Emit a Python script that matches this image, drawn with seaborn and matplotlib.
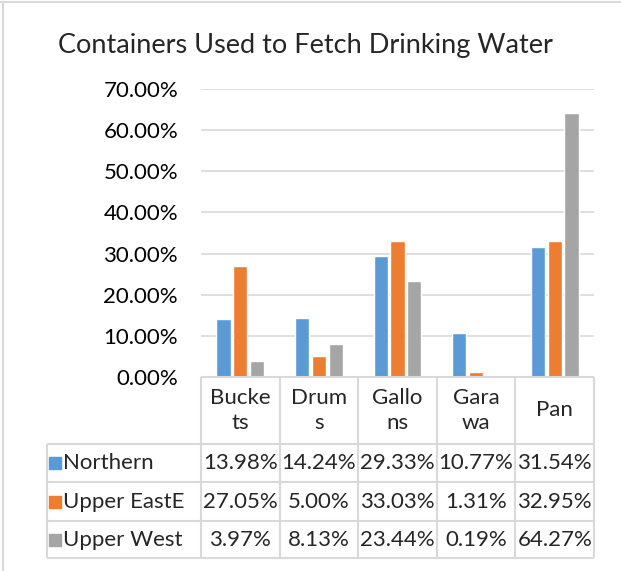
import matplotlib
matplotlib.use("Agg")
import matplotlib.pyplot as plt
import pandas as pd
import seaborn as sns
from matplotlib.ticker import PercentFormatter
from matplotlib.lines import Line2D

# Dados do gráfico
categorias = ["Bucke\nts", "Drum\ns", "Gallo\nns", "Gara\nwa", "Pan"]
regioes = ["Northern", "Upper EastE", "Upper West"]
northern = [13.98, 14.24, 29.33, 10.77, 31.54]
upper_east = [27.05, 5.00, 33.03, 1.31, 32.95]
upper_west = [3.97, 8.13, 23.44, 0.19, 64.27]
cores = ["#5B9BD5", "#ED7D31", "#A5A5A5"]

valores = [northern, upper_east, upper_west]
df = pd.DataFrame({
    "categoria": categorias * 3,
    "regiao": [r for r in regioes for _ in categorias],
    "valor": northern + upper_east + upper_west,
})

sns.set_theme(style="white")
plt.rcParams['font.family'] = ['Lato', 'DejaVu Sans']
cinza = "#D9D9D9"
fs = 16

W, H = 621, 571
fig = plt.figure(figsize=(W / 100, H / 100), dpi=100)

# Area do grafico de barras
x0, x1, ytop, ybot = 201, 594, 89, 377
ax = fig.add_axes([x0 / W, 1 - ybot / H, (x1 - x0) / W, (ybot - ytop) / H])
sns.barplot(data=df, x="categoria", y="valor", hue="regiao", palette=cores,
            width=0.64, gap=0.16, ax=ax, legend=False, saturation=1)
ax.set_ylim(0, 70)
ax.set_xlim(-0.5, 4.5)
ax.set_yticks(range(0, 71, 10))
ax.yaxis.set_major_formatter(PercentFormatter(100, decimals=2))
ax.set_xticks([])
ax.set_xlabel("")
ax.set_ylabel("")
ax.grid(axis="y", color=cinza, linewidth=1.2)
ax.set_axisbelow(True)
for s in ax.spines.values():
    s.set_visible(False)
ax.tick_params(axis="y", length=0, pad=16.5, labelsize=fs, colors="black")

# Tabela de dados abaixo do grafico
tx0, tyb = 47, 558
unid = (x1 - x0) / 5.0
esq = -0.5 - (x0 - tx0) / unid
tab = fig.add_axes([tx0 / W, 1 - tyb / H, (x1 - tx0) / W, (tyb - ybot) / H])
tab.set_xlim(esq, 4.5)
linhas_y = [0, 67, 105, 144, 181]
tab.set_ylim(181, 0)
tab.axis("off")

kw = dict(color=cinza, linewidth=1.5, clip_on=False)
tab.hlines(0, -0.5, 4.5, **kw)
for yy in linhas_y[1:]:
    tab.hlines(yy, esq, 4.5, **kw)
tab.vlines(esq, 67, 181, **kw)
for i in range(6):
    tab.vlines(i - 0.5, 0, 181, **kw)

for i, c in enumerate(categorias):
    tab.text(i, 33.5, c, ha="center", va="center", fontsize=fs, linespacing=1.35)

for j, (r, vals) in enumerate(zip(regioes, valores)):
    yc = (linhas_y[j + 1] + linhas_y[j + 2]) / 2
    tab.scatter([esq + 8 / unid], [yc], marker="s", s=70, color=cores[j], clip_on=False)
    tab.text(esq + 16 / unid, yc, r, ha="left", va="center", fontsize=fs)
    for i, v in enumerate(vals):
        tab.text(i, yc, f"{v:.2f}%", ha="center", va="center", fontsize=fs)

# Titulo e borda
fig.text(305 / W, 1 - 45 / H, "Containers Used to Fetch Drinking Water",
         ha="center", va="center", fontsize=19.5)
fig.add_artist(Line2D([0, 1], [1 - 2 / H, 1 - 2 / H], color=cinza, linewidth=1.5))
fig.add_artist(Line2D([3 / W, 3 / W], [0, 1 - 2 / H], color=cinza, linewidth=1.5))

plt.savefig("out.png", dpi=100)
